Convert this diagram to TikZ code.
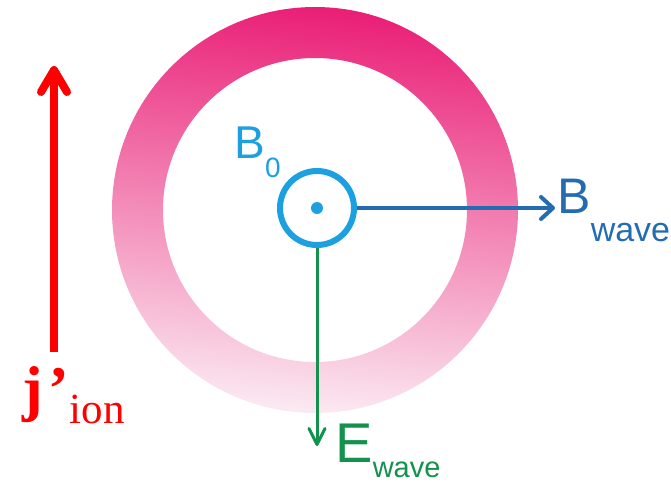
\documentclass[tikz,border=0pt]{standalone}
\usepackage{fontspec}
\setmainfont{Liberation Sans}
\newfontfamily\tnrfont{Liberation Serif}
\usepackage{tikz}
\usetikzlibrary{arrows.meta,positioning}

\definecolor{ringtop}{RGB}{234,30,118}
\definecolor{ringmid}{RGB}{240,108,164}
\definecolor{ringbot}{RGB}{251,234,242}
\definecolor{bzero}{RGB}{28,160,224}
\definecolor{bwavec}{RGB}{36,108,178}
\definecolor{ewavec}{RGB}{18,146,76}
\definecolor{jion}{RGB}{255,0,0}

% lowered subscript: drop, font size, text
\newcommand{\lowtxt}[3]{\raisebox{-#1}{\fontsize{#2}{#2}\selectfont #3}}

\begin{document}
\begin{tikzpicture}[
    x=0.5pt, y=-0.5pt,
    lbl/.style={inner sep=0pt, anchor=base west},
    field/.style={circle, draw=bzero, line width=3pt,
        minimum size=37pt, inner sep=0pt},
    barrow/.style={-{Straight Barb[length=6pt, width=11pt, round]},
        line width=2pt, bwavec},
    earrow/.style={-{Straight Barb[length=8pt, width=8pt, round]},
        line width=1.5pt, ewavec},
    jarrow/.style={-{Straight Barb[length=11pt, width=13pt, round]},
        line width=4pt, jion},
]
\useasboundingbox (0,0) rectangle (671,483);

% ── Current ring ──
\shade[even odd rule, top color=ringtop, middle color=ringmid,
    bottom color=ringbot, shading angle=-6]
    (315,210) circle (203) (315,210) circle (152);

% ── Background field ──
\node[field] (b0) at (317,208) {};
\fill[bzero] (b0.center) circle (3pt);
\node[lbl, text=bzero] (b0lbl) at (234,158)
    {\fontsize{23}{23}\selectfont B\lowtxt{9.5pt}{14}{0}};

% ── Wave fields ──
\coordinate (bwtip) at (555,208);
\coordinate (ewtip) at (317,446);
\draw[barrow] (b0) -- (bwtip);
\draw[earrow] (b0) -- (ewtip);
\node[lbl, text=bwavec] (bwlbl) at (557,213)
    {\fontsize{25}{25}\selectfont B\lowtxt{14pt}{17}{wave}};
\node[lbl, text=ewavec] (ewlbl) at (335,462)
    {\fontsize{28}{28}\selectfont E\lowtxt{7.5pt}{14.5}{wave}};

% ── Ion current ──
\coordinate (jbot) at (54,352);
\coordinate (jtop) at (54,66);
\draw[jarrow] (jbot) -- (jtop);
\node[lbl, text=jion] (jlbl) at (22,409)
    {\tnrfont\bfseries\fontsize{31}{31}\selectfont j\kern2.5pt’\kern0.5pt\lowtxt{7pt}{21.5}{\mdseries ion}};

\end{tikzpicture}
\end{document}
